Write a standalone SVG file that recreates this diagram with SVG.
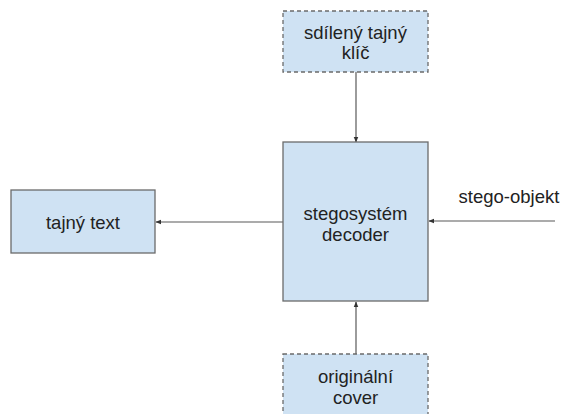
<svg xmlns="http://www.w3.org/2000/svg" width="565" height="414" viewBox="0 0 565 414">
  <defs>
    <style>
      .box { fill: #cfe2f3; stroke: #6b6b6b; stroke-width: 1.3; }
      .dashed { stroke-dasharray: 4 3; }
      .label { font-family: "Liberation Sans", Arial, sans-serif; font-size: 18.5px; fill: #222222; text-anchor: middle; }
      .edge { stroke: #595959; stroke-width: 1.2; fill: none; marker-end: url(#arrow); }
    </style>
    <marker id="arrow" viewBox="0 0 10 10" refX="9" refY="5" markerWidth="6" markerHeight="6" orient="auto" markerUnits="userSpaceOnUse">
      <path d="M0,1 L10,5 L0,9 Z" fill="#333333"/>
    </marker>
  </defs>

  <rect width="565" height="414" fill="#ffffff"/>

  <g id="connectors">
    <line class="edge" x1="356" y1="72" x2="356" y2="142"/>
    <line class="edge" x1="356" y1="354" x2="356" y2="302"/>
    <line class="edge" x1="283" y1="222" x2="156" y2="222"/>
    <line class="edge" x1="555" y1="221" x2="429" y2="221"/>
  </g>

  <g id="shared-key">
    <rect class="box dashed" x="283" y="11" width="145" height="61"/>
    <text class="label" x="355.5" y="38.5">sdílený tajný</text>
    <text class="label" x="355.5" y="59">klíč</text>
  </g>

  <g id="decoder">
    <rect class="box" x="283" y="142" width="145" height="159"/>
    <text class="label" x="355.5" y="220">stegosystém</text>
    <text class="label" x="355.5" y="241">decoder</text>
  </g>

  <g id="secret-text">
    <rect class="box" x="11" y="190" width="144" height="63"/>
    <text class="label" x="83" y="229">tajný text</text>
  </g>

  <g id="original-cover">
    <rect class="box dashed" x="283" y="354" width="145" height="62"/>
    <text class="label" x="355.5" y="383">originální</text>
    <text class="label" x="355.5" y="404">cover</text>
  </g>

  <g id="stego-object">
    <text class="label" x="509" y="203">stego-objekt</text>
  </g>
</svg>
